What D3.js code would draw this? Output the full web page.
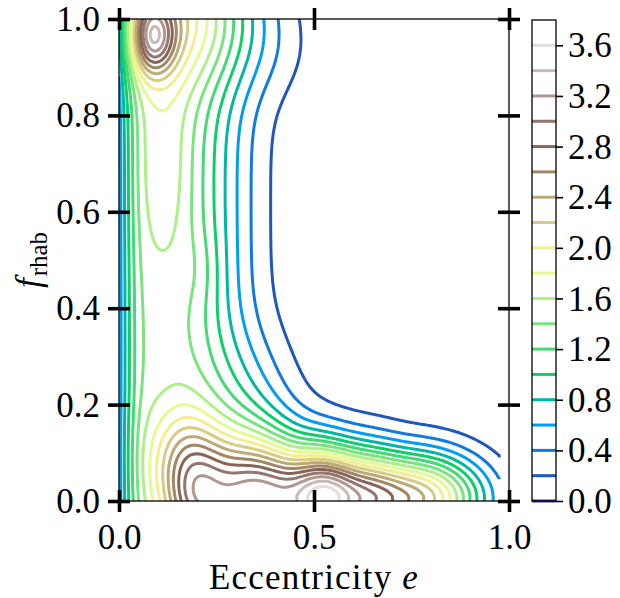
<!DOCTYPE html>
<html>
<head>
<meta charset="utf-8">
<script src="https://cdn.jsdelivr.net/npm/d3@7"></script>
<style>
  body { margin: 0; background: #fff; }
  text { font-family: "Liberation Serif", "Times New Roman", serif; fill: #000; }
</style>
</head>
<body>
<svg id="chart" width="620" height="598"></svg>
<script>
// Contour levels of the density and the labelled colorbar ticks
const levels = [0.0, 0.2, 0.4, 0.6, 0.8, 1.0, 1.2, 1.4, 1.6, 1.8, 2.0,
                2.2, 2.4, 2.6, 2.8, 3.0, 3.2, 3.4, 3.6, 3.8];
const colorbarTicks = [0.0, 0.4, 0.8, 1.2, 1.6, 2.0, 2.4, 2.8, 3.2, 3.6];
const xTicks = [0.0, 0.5, 1.0];
const yTicks = [0.0, 0.2, 0.4, 0.6, 0.8, 1.0];

// Kernel components of the density surface over (e, f_rhab)
const kernelAmp  = [1.45, 0.35, 1.50, 0.75, 0.30, 0.55, 1.20, 1.60, 1.90, 2.77, 1.00, 2.30, 0.12, 0.30, 0.08, 0.10];
const kernelE    = [0.13, 0.04, 0.085, 0.17, 0.11, 0.16, 0.20, 0.31, 0.40, 0.525, 0.64, 0.76, 0.60, 0.33, 0.40, 0.21];
const kernelF    = [0.50, 0.50, 0.965, 1.00, 0.70, 0.09, 0.005, 0.005, 0.005, 0.005, 0.005, 0.005, 0.05, 0.22, 0.92, 0.48];
const kernelSigE = [0.13, 0.04, 0.04, 0.15, 0.05, 0.07, 0.06, 0.07, 0.07, 0.065, 0.06, 0.12, 0.20, 0.10, 0.09, 0.04];
const kernelSigF = [3.0, 3.0, 0.055, 0.10, 0.15, 0.08, 0.09, 0.10, 0.09, 0.075, 0.075, 0.065, 0.12, 0.10, 0.07, 0.06];

// Fall-off of the density towards e = 0
const leftFloor = 0.45, leftScale = 0.04;

// Evaluation grid
const eMax = 0.975, gridStep = 0.005;
const nx = Math.round(eMax / gridStep) + 1;
const ny = Math.round(1 / gridStep) + 1;

function density(e, f) {
  let s = 0;
  for (let k = 0; k < kernelAmp.length; k++) {
    const de = (e - kernelE[k]) / kernelSigE[k];
    const df = (f - kernelF[k]) / kernelSigF[k];
    s += kernelAmp[k] * Math.exp(-0.5 * (de * de + df * df));
  }
  return s * (1 - (1 - leftFloor) * Math.exp(-e / leftScale));
}

const values = new Float64Array(nx * ny);
for (let j = 0; j < ny; j++) {
  for (let i = 0; i < nx; i++) {
    values[j * nx + i] = density(i * gridStep, j * gridStep);
  }
}

// Matplotlib-style "terrain" colormap
const terrain = d3.scaleLinear()
  .domain([0, 0.15, 0.25, 0.5, 0.75, 1])
  .range(["rgb(51,51,153)", "rgb(0,153,255)", "rgb(0,204,102)",
          "rgb(255,255,153)", "rgb(128,92,84)", "rgb(255,255,255)"])
  .interpolate(d3.interpolateRgb)
  .clamp(true);
const vmax = levels[levels.length - 1];
const colorOf = v => terrain(v / vmax);

const svg = d3.select("#chart");
const plot = { left: 119, right: 509, top: 19, bottom: 501 };

const x = d3.scaleLinear().domain([0, 1]).range([plot.left, plot.right]);
const y = d3.scaleLinear().domain([0, 1]).range([plot.bottom, plot.top]);

svg.append("defs").append("clipPath").attr("id", "plotClip")
  .append("rect")
  .attr("x", plot.left).attr("y", plot.top)
  .attr("width", plot.right - plot.left).attr("height", plot.bottom - plot.top);

// Contour lines (open along the grid border, as a line contour plot)
const contours = d3.contours().size([nx, ny]).thresholds(levels)(values);

const isBorder = p => p[0] <= 0 || p[0] >= nx || p[1] <= 0 || p[1] >= ny;
const clampG = (v, n) => Math.max(0.5, Math.min(n - 0.5, v));
const gx = p => x((clampG(p[0], nx) - 0.5) * gridStep);
const gy = p => y((clampG(p[1], ny) - 0.5) * gridStep);

function ringToLines(ring) {
  const pts = ring.slice(0, ring.length - 1);
  const k = pts.length;
  const start = pts.findIndex(isBorder);
  if (start < 0) return [ring];
  const out = [];
  let cur = [];
  for (let s = 0; s < k; s++) {
    const a = pts[(start + s) % k], b = pts[(start + s + 1) % k];
    if (isBorder(a) && isBorder(b)) {
      if (cur.length) { out.push(cur); cur = []; }
      continue;
    }
    if (!cur.length) cur.push(a);
    cur.push(b);
  }
  if (cur.length) out.push(cur);
  return out;
}

const line = d3.line().x(gx).y(gy);
const gContours = svg.append("g").attr("clip-path", "url(#plotClip)");
contours.forEach(c => {
  if (c.value <= 0) return;
  const paths = [];
  c.coordinates.forEach(poly => poly.forEach(ring => {
    ringToLines(ring).forEach(l => { if (l.length > 1) paths.push(line(l)); });
  }));
  gContours.append("path")
    .attr("d", paths.join(""))
    .attr("fill", "none")
    .attr("stroke", colorOf(c.value))
    .attr("stroke-width", 3)
    .attr("stroke-linejoin", "round")
    .attr("stroke-linecap", "butt");
});

// Frame
svg.append("rect")
  .attr("x", plot.left).attr("y", plot.top)
  .attr("width", plot.right - plot.left).attr("height", plot.bottom - plot.top)
  .attr("fill", "none").attr("stroke", "#000").attr("stroke-width", 1.3);

const fontSize = 35;
const tickHalf = 11, tickWidth = 3.6;

function styleAxis(g) {
  g.select(".domain").remove();
  g.selectAll(".tick line").attr("stroke", "#000").attr("stroke-width", tickWidth);
  g.selectAll(".tick text").attr("font-size", fontSize).attr("font-family", "Liberation Serif");
}

// Bottom axis (ticks point in and out)
const gxb = svg.append("g").attr("transform", `translate(0,${plot.bottom})`)
  .call(d3.axisBottom(x).tickValues(xTicks).tickFormat(d3.format(".1f")).tickSize(tickHalf).tickPadding(10));
styleAxis(gxb);
gxb.selectAll(".tick line").attr("y1", -tickHalf).attr("y2", tickHalf);
gxb.selectAll(".tick text").attr("dy", "0.78em");

// Top axis, ticks only
const gxt = svg.append("g").attr("transform", `translate(0,${plot.top})`)
  .call(d3.axisTop(x).tickValues(xTicks).tickFormat("").tickSize(tickHalf));
styleAxis(gxt);
gxt.selectAll(".tick line").attr("y1", -tickHalf).attr("y2", tickHalf);

// Left axis
const gyl = svg.append("g").attr("transform", `translate(${plot.left},0)`)
  .call(d3.axisLeft(y).tickValues(yTicks).tickFormat(d3.format(".1f")).tickSize(tickHalf).tickPadding(8));
styleAxis(gyl);
gyl.selectAll(".tick line").attr("x1", tickHalf).attr("x2", -tickHalf);
gyl.selectAll(".tick text").attr("dy", "0.33em");

// Right axis, ticks only
const gyr = svg.append("g").attr("transform", `translate(${plot.right},0)`)
  .call(d3.axisRight(y).tickValues(yTicks).tickFormat("").tickSize(tickHalf));
styleAxis(gyr);
gyr.selectAll(".tick line").attr("x1", -tickHalf).attr("x2", tickHalf);

// Axis titles
svg.append("text")
  .attr("x", (plot.left + plot.right) / 2).attr("y", 589)
  .attr("text-anchor", "middle").attr("font-size", fontSize)
  .attr("letter-spacing", 1.2)
  .html('Eccentricity <tspan font-style="italic">e</tspan>');

const ylab = svg.append("text")
  .attr("transform", `translate(40,${(plot.top + plot.bottom) / 2}) rotate(-90)`)
  .attr("text-anchor", "middle").attr("font-size", fontSize);
ylab.append("tspan").attr("font-style", "italic").text("f");
ylab.append("tspan").attr("font-size", 25).attr("dy", 7).attr("dx", 2).text("rhab");

// Colorbar with one line per contour level
const cb = { left: 532, right: 556, top: 20, bottom: 501 };
const cy = d3.scaleLinear().domain([0, vmax]).range([cb.bottom, cb.top]);
const gcb = svg.append("g");
gcb.selectAll("line.level").data(levels).join("line")
  .attr("class", "level")
  .attr("x1", cb.left).attr("x2", cb.right)
  .attr("y1", d => cy(d)).attr("y2", d => cy(d))
  .attr("stroke", d => colorOf(d)).attr("stroke-width", 3);
gcb.append("rect")
  .attr("x", cb.left).attr("y", cb.top)
  .attr("width", cb.right - cb.left).attr("height", cb.bottom - cb.top)
  .attr("fill", "none").attr("stroke", "#000").attr("stroke-width", 1.3);
const gcbAxis = svg.append("g").attr("transform", `translate(${cb.right},0)`)
  .call(d3.axisRight(cy).tickValues(colorbarTicks).tickFormat(d3.format(".1f")).tickSize(7).tickPadding(5));
gcbAxis.select(".domain").remove();
gcbAxis.selectAll(".tick line").attr("stroke", "#000").attr("stroke-width", 1.6);
gcbAxis.selectAll(".tick text").attr("font-size", fontSize).attr("font-family", "Liberation Serif").attr("dy", "0.33em");
</script>
</body>
</html>
